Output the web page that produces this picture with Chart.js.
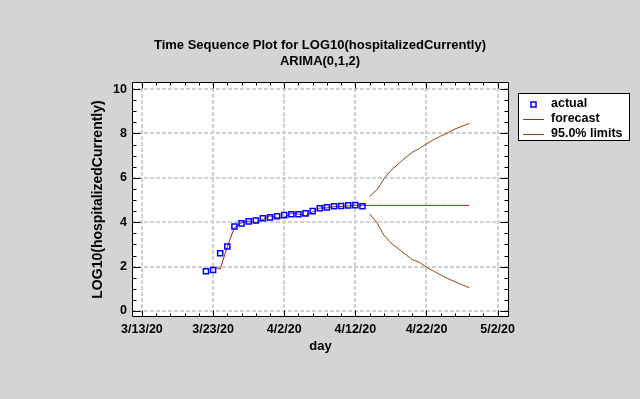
<!DOCTYPE html>
<html>
<head>
<meta charset="utf-8">
<script src="https://cdn.jsdelivr.net/npm/chart.js@4.4.1/dist/chart.umd.min.js"></script>
<style>
html,body{margin:0;padding:0;background:#d4d4d4;}
#wrap{width:640px;height:399px;}
</style>
</head>
<body>
<div id="wrap"><canvas id="c" width="640" height="399"></canvas></div>
<script>
// ---------------- data ----------------
const baseDate = '3/13';
const actualDates = ['3/22','3/23','3/24','3/25','3/26','3/27','3/28','3/29','3/30','3/31','4/1','4/2','4/3','4/4','4/5','4/6','4/7','4/8','4/9','4/10','4/11','4/12','4/13'];
const actualValues = [1.79,1.85,2.60,2.91,3.81,3.95,4.04,4.08,4.18,4.22,4.27,4.32,4.36,4.36,4.40,4.50,4.63,4.67,4.72,4.73,4.76,4.77,4.72];
const forecastDates = ['3/23','3/24','3/25','3/26','3/27','3/28','3/29','3/30','3/31','4/1','4/2','4/3','4/4','4/5','4/6','4/7','4/8','4/9','4/10','4/11','4/12','4/13','4/14','4/15','4/16','4/17','4/18','4/19','4/20','4/21','4/22','4/23','4/24','4/25','4/26','4/27','4/28'];
const forecastValues = [1.99,1.89,2.90,3.76,3.98,4.05,3.96,4.13,4.29,4.20,4.22,4.40,4.37,4.29,4.47,4.64,4.65,4.70,4.71,4.74,4.76,4.76,4.76,4.76,4.76,4.76,4.76,4.76,4.76,4.76,4.76,4.76,4.76,4.76,4.76,4.76,4.76];
const limitDates = ['4/14','4/15','4/16','4/17','4/18','4/19','4/20','4/21','4/22','4/23','4/24','4/25','4/26','4/27','4/28'];
const upperLimits = [5.16,5.45,5.95,6.33,6.62,6.90,7.15,7.32,7.53,7.72,7.88,8.03,8.20,8.33,8.45];
const lowerLimits = [4.38,4.00,3.42,3.07,2.82,2.56,2.32,2.19,1.97,1.80,1.62,1.46,1.32,1.18,1.05];
const xTickLabels = ['3/13/20','3/23/20','4/2/20','4/12/20','4/22/20','5/2/20'];
const yTickLabels = ['0','2','4','6','8','10'];

const chartTitle = ['Time Sequence Plot for LOG10(hospitalizedCurrently)', 'ARIMA(0,1,2)'];
const xTitle = 'day';
const yTitle = 'LOG10(hospitalizedCurrently)';

// ---------------- helpers ----------------
function dayOf(s) {
  const [m, d] = s.split('/').map(Number);
  const [bm, bd] = baseDate.split('/').map(Number);
  return Math.round((Date.UTC(2020, m - 1, d) - Date.UTC(2020, bm - 1, bd)) / 86400000);
}
function pts(dates, vals) { return dates.map((d, i) => ({x: dayOf(d), y: vals[i]})); }

const FONT = '"Liberation Sans", Arial, sans-serif';
const BG = '#d4d4d4';
const GRID = '#d0d0d0';
const RED = '#b01e1e';
const BROWN = '#8b4513';
const BLUE = '#0000ff';

const framePlugin = {
  id: 'frame',
  beforeDraw(chart) {
    const {ctx, chartArea: a} = chart;
    ctx.save();
    ctx.fillStyle = BG;
    ctx.fillRect(0, 0, chart.width, chart.height);
    ctx.fillStyle = '#ffffff';
    ctx.fillRect(a.left, a.top, a.right - a.left, a.bottom - a.top);
    ctx.restore();
  },
  afterDraw(chart) {
    const {ctx, chartArea: a} = chart;
    const xs = chart.scales.x, ys = chart.scales.y;
    const L = Math.round(a.left) + 0.5, R = Math.round(a.right) - 0.5;
    const T = Math.round(a.top) + 0.5, B = Math.round(a.bottom) - 0.5;
    ctx.save();
    ctx.strokeStyle = '#000';
    ctx.lineWidth = 1;
    ctx.beginPath();
    ctx.rect(L, T, R - L, B - T);
    xs.ticks.forEach(t => {
      const px = Math.round(xs.getPixelForValue(t.value)) + 0.5;
      const len = (t.value % 10 === 0) ? 6 : 3;
      ctx.moveTo(px, B); ctx.lineTo(px, B - len);
      ctx.moveTo(px, T); ctx.lineTo(px, T + len);
    });
    ys.ticks.forEach(t => {
      const py = Math.round(ys.getPixelForValue(t.value)) + 0.5;
      const len = (Math.abs(t.value % 2) < 1e-9) ? 8 : 4;
      ctx.moveTo(L, py); ctx.lineTo(L + len, py);
      ctx.moveTo(R, py); ctx.lineTo(R - len, py);
    });
    ctx.stroke();

    // legend
    const bx = 518.5, by = 93.5, bw = 111, bh = 47;
    ctx.fillStyle = '#fff';
    ctx.fillRect(bx, by, bw, bh);
    ctx.strokeRect(bx, by, bw, bh);
    ctx.font = 'bold 12.5px ' + FONT;
    ctx.textBaseline = 'middle';
    ctx.textAlign = 'left';
    let row = 0;
    chart.data.datasets.forEach(ds => {
      if (!ds.label) return;
      const cy = by + 10 + row * 15;
      if (ds.showLine) {
        ctx.strokeStyle = ds.borderColor;
        ctx.lineWidth = 1;
        ctx.beginPath();
        ctx.moveTo(523, Math.round(cy) + 0.5);
        ctx.lineTo(544, Math.round(cy) + 0.5);
        ctx.stroke();
      } else {
        ctx.strokeStyle = ds.pointBorderColor;
        ctx.lineWidth = 1.5;
        ctx.strokeRect(531, Math.round(cy) - 2, 5, 5);
      }
      ctx.fillStyle = '#000';
      ctx.fillText(ds.label, 551, cy);
      row++;
    });
    ctx.restore();
  }
};

Chart.defaults.font.family = FONT;
Chart.defaults.color = '#000';

new Chart(document.getElementById('c'), {
  type: 'scatter',
  data: {
    datasets: [
      {
        label: 'actual',
        data: pts(actualDates, actualValues),
        showLine: false,
        pointStyle: 'rect',
        pointRadius: 3.6,
        pointBorderWidth: 1.5,
        pointBorderColor: BLUE,
        pointBackgroundColor: 'rgba(0,0,0,0)',
        order: 1
      },
      {
        label: 'forecast',
        data: pts(forecastDates, forecastValues),
        showLine: true,
        borderColor: RED,
        borderWidth: 1,
        pointRadius: 0,
        tension: 0,
        order: 2
      },
      {
        label: '95.0% limits',
        data: pts(limitDates, upperLimits),
        showLine: true,
        borderColor: BROWN,
        borderWidth: 1,
        pointRadius: 0,
        order: 3
      },
      {
        label: '',
        data: pts(limitDates, lowerLimits),
        showLine: true,
        borderColor: BROWN,
        borderWidth: 1,
        pointRadius: 0,
        order: 3
      }
    ]
  },
  options: {
    responsive: false,
    animation: false,
    devicePixelRatio: 1,
    layout: {padding: {left: 0, right: 0, top: 0, bottom: 45}},
    plugins: {
      legend: {display: false},
      tooltip: {enabled: false},
      title: {
        display: true,
        text: chartTitle,
        color: '#000',
        font: {family: FONT, size: 13, weight: 'bold', lineHeight: 1.2},
        padding: {top: 38, bottom: 12.8}
      }
    },
    scales: {
      x: {
        type: 'linear',
        min: -1.4,
        max: 51.6,
        afterFit(s) { s.height = 37; },
        ticks: {
          stepSize: 2,
          includeBounds: false,
          autoSkip: false,
          maxRotation: 0,
          minRotation: 0,
          padding: 5,
          font: {family: FONT, size: 12.5, weight: 'bold'},
          callback: v => (v % 10 === 0 ? xTickLabels[v / 10] : '')
        },
        grid: {
          drawTicks: false,
          lineWidth: 2,
          color: c => (c.tick && c.tick.value % 10 === 0 ? GRID : 'rgba(0,0,0,0)')
        },
        border: {display: false, dash: [4, 2]},
        title: {
          display: true,
          text: xTitle,
          font: {family: FONT, size: 13, weight: 'bold'},
          padding: {top: 0, bottom: 0}
        }
      },
      y: {
        type: 'linear',
        min: -0.27,
        max: 10.32,
        afterFit(s) { s.width = 132; },
        ticks: {
          stepSize: 0.5,
          includeBounds: false,
          autoSkip: false,
          padding: 5,
          font: {family: FONT, size: 12.5, weight: 'bold'},
          callback: v => (Math.abs(v % 2) < 1e-9 ? yTickLabels[v / 2] : '')
        },
        grid: {
          drawTicks: false,
          lineWidth: 2,
          color: c => (c.tick && Math.abs(c.tick.value % 2) < 1e-9 ? GRID : 'rgba(0,0,0,0)')
        },
        border: {display: false, dash: [4, 2]},
        title: {
          display: true,
          text: yTitle,
          font: {family: FONT, size: 14, weight: 'bold'},
          padding: {top: 89.5, bottom: 0}
        }
      },
      yRight: {
        type: 'linear',
        position: 'right',
        display: true,
        min: -0.27,
        max: 10.32,
        afterFit(s) { s.width = 131; },
        ticks: {display: false},
        grid: {display: false, drawTicks: false},
        border: {display: false}
      }
    }
  },
  plugins: [framePlugin]
});
</script>
</body>
</html>
